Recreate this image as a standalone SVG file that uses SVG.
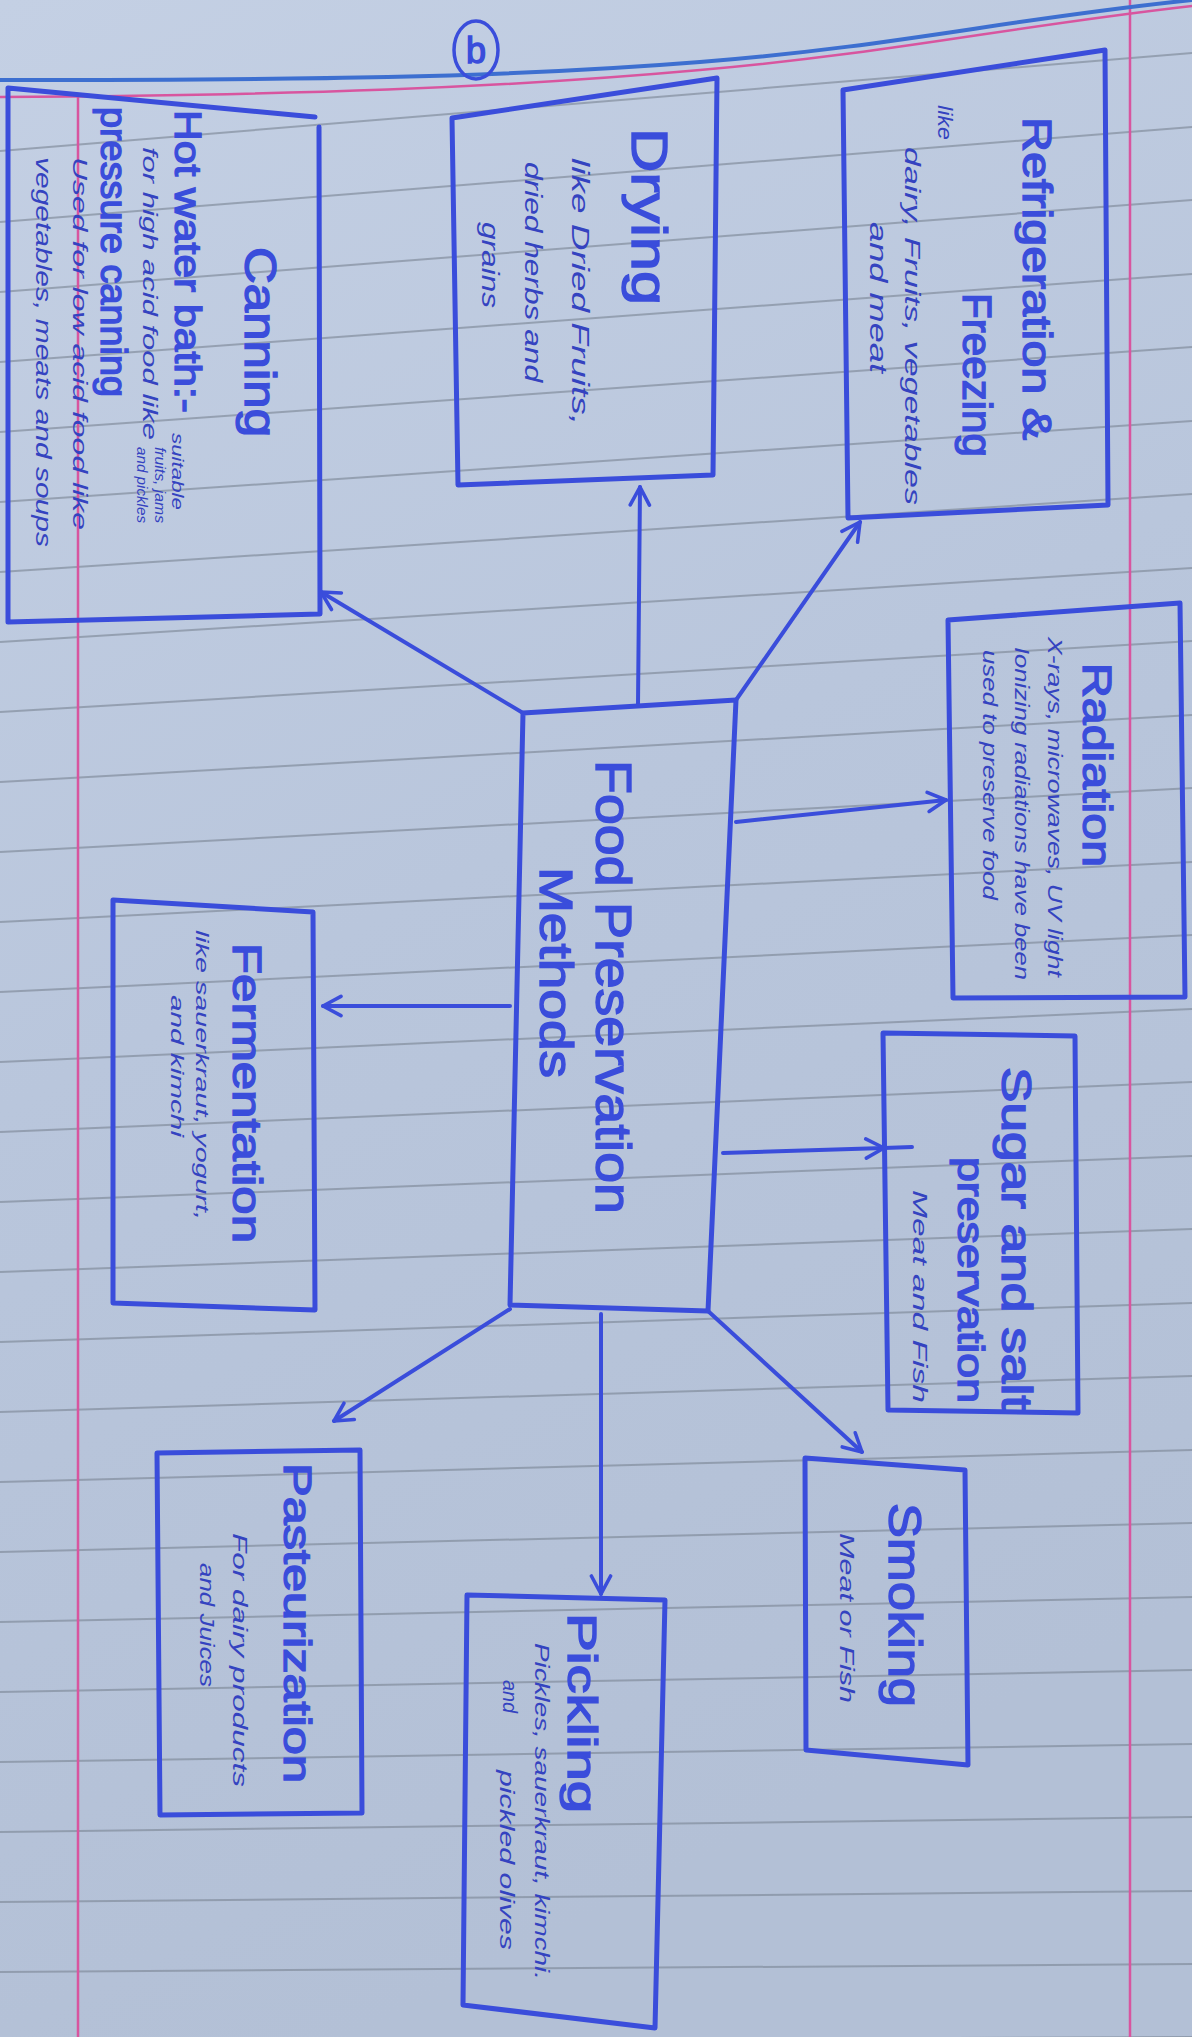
<svg xmlns="http://www.w3.org/2000/svg" width="1192" height="2037" viewBox="0 0 1192 2037">
<defs>
<linearGradient id="paper" x1="0" y1="0" x2="0.3" y2="1">
<stop offset="0" stop-color="#c4d0e4"/>
<stop offset="0.5" stop-color="#b9c6dc"/>
<stop offset="1" stop-color="#b3c0d6"/>
</linearGradient>
<marker id="arr" viewBox="0 0 20 20" refX="18" refY="10" markerWidth="24" markerHeight="24" markerUnits="userSpaceOnUse" orient="auto">
<path d="M3,2 L18,10 L3,18" fill="none" stroke="#3a4ddb" stroke-width="3" stroke-linecap="round" stroke-linejoin="round"/>
</marker>
</defs>
<style>
.rule{stroke:#7e8898;stroke-width:2;fill:none;opacity:0.65}
.pink{stroke:#d8559f;stroke-width:2.5;fill:none}
.box{fill:none;stroke:#3a4ddb;stroke-width:5;stroke-linejoin:round;stroke-linecap:round}
.con{fill:none;stroke:#3a4ddb;stroke-width:4;stroke-linecap:round}
.t{font-family:"Liberation Sans","DejaVu Sans",sans-serif;fill:#3a4ddb;stroke:#3a4ddb;stroke-width:1.4}
.n{font-family:"Liberation Sans","DejaVu Sans",sans-serif;font-style:italic;fill:#3443c0}
</style>
<rect x="0" y="0" width="1192" height="2037" fill="url(#paper)"/>
<g id="paper-lines">
<line class="rule" x1="0" y1="151" x2="1192" y2="53"/>
<line class="rule" x1="0" y1="222" x2="1192" y2="127"/>
<line class="rule" x1="0" y1="292" x2="1192" y2="200"/>
<line class="rule" x1="0" y1="362" x2="1192" y2="274"/>
<line class="rule" x1="0" y1="432" x2="1192" y2="347"/>
<line class="rule" x1="0" y1="502" x2="1192" y2="421"/>
<line class="rule" x1="0" y1="572" x2="1192" y2="494"/>
<line class="rule" x1="0" y1="642" x2="1192" y2="568"/>
<line class="rule" x1="0" y1="712" x2="1192" y2="641"/>
<line class="rule" x1="0" y1="782" x2="1192" y2="715"/>
<line class="rule" x1="0" y1="852" x2="1192" y2="788"/>
<line class="rule" x1="0" y1="922" x2="1192" y2="862"/>
<line class="rule" x1="0" y1="992" x2="1192" y2="935"/>
<line class="rule" x1="0" y1="1062" x2="1192" y2="1009"/>
<line class="rule" x1="0" y1="1132" x2="1192" y2="1082"/>
<line class="rule" x1="0" y1="1202" x2="1192" y2="1156"/>
<line class="rule" x1="0" y1="1272" x2="1192" y2="1229"/>
<line class="rule" x1="0" y1="1342" x2="1192" y2="1303"/>
<line class="rule" x1="0" y1="1412" x2="1192" y2="1376"/>
<line class="rule" x1="0" y1="1482" x2="1192" y2="1450"/>
<line class="rule" x1="0" y1="1552" x2="1192" y2="1523"/>
<line class="rule" x1="0" y1="1622" x2="1192" y2="1597"/>
<line class="rule" x1="0" y1="1692" x2="1192" y2="1670"/>
<line class="rule" x1="0" y1="1762" x2="1192" y2="1744"/>
<line class="rule" x1="0" y1="1832" x2="1192" y2="1817"/>
<line class="rule" x1="0" y1="1902" x2="1192" y2="1891"/>
<line class="rule" x1="0" y1="1972" x2="1192" y2="1964"/>
<line class="rule" x1="0" y1="2042" x2="1192" y2="2037"/>
<line class="pink" x1="78" y1="95" x2="78" y2="2037"/>
<line class="pink" x1="1130" y1="0" x2="1130" y2="2037"/>
<path d="M0,80 C300,80 500,78 700,62 S1000,20 1192,0" fill="none" stroke="#3d6fd0" stroke-width="4"/>
<path class="pink" d="M0,97 C300,95 500,88 700,70 S1000,28 1192,6"/>
</g>
<g id="label-b">
<ellipse cx="476" cy="50" rx="22" ry="29" fill="none" stroke="#3a4ddb" stroke-width="3.5"/>
<text class="t" x="476" y="63" font-size="36" text-anchor="middle">b</text>
</g>
<g id="connectors">
<line class="con" x1="523" y1="713" x2="321" y2="592" marker-end="url(#arr)"/>
<line class="con" x1="638" y1="705" x2="640" y2="487" marker-end="url(#arr)"/>
<line class="con" x1="736" y1="700" x2="860" y2="522" marker-end="url(#arr)"/>
<line class="con" x1="736" y1="822" x2="946" y2="800" marker-end="url(#arr)"/>
<line class="con" x1="723" y1="1153" x2="884" y2="1148" marker-end="url(#arr)"/>
<line class="con" x1="884" y1="1148" x2="912" y2="1147"/>
<line class="con" x1="510" y1="1006" x2="323" y2="1006" marker-end="url(#arr)"/>
<line class="con" x1="510" y1="1309" x2="334" y2="1421" marker-end="url(#arr)"/>
<line class="con" x1="601" y1="1314" x2="601" y2="1594" marker-end="url(#arr)"/>
<line class="con" x1="708" y1="1311" x2="862" y2="1452" marker-end="url(#arr)"/>
</g>
<g id="node-center">
<polygon class="box" points="523,713 736,700 708,1311 510,1305"/>
<text class="t" font-size="50" transform="translate(596,760) rotate(90)" textLength="454" lengthAdjust="spacingAndGlyphs">Food Preservation</text>
<text class="t" font-size="46" transform="translate(540,867) rotate(90)" textLength="211" lengthAdjust="spacingAndGlyphs">Methods</text>
</g>
<g id="node-refrigeration">
<polygon class="box" points="843,90 1105,50 1108,505 848,518"/>
<text class="t" font-size="40" transform="translate(1023,117) rotate(90)" textLength="323" lengthAdjust="spacingAndGlyphs">Refrigeration &amp;</text>
<text class="t" font-size="40" transform="translate(963,293) rotate(90)" textLength="164" lengthAdjust="spacingAndGlyphs">Freezing</text>
<text class="n" font-size="20" transform="translate(938,105) rotate(90)" textLength="35" lengthAdjust="spacingAndGlyphs">like</text>
<text class="n" font-size="22" transform="translate(905,147) rotate(90)" textLength="358" lengthAdjust="spacingAndGlyphs">dairy, Fruits, vegetables</text>
<text class="n" font-size="24" transform="translate(870,222) rotate(90)" textLength="151" lengthAdjust="spacingAndGlyphs">and meat</text>
</g>
<g id="node-drying">
<polygon class="box" points="452,118 717,78 713,475 458,485"/>
<text class="t" font-size="50" transform="translate(632,128) rotate(90)" textLength="177" lengthAdjust="spacingAndGlyphs">Drying</text>
<text class="n" font-size="24" transform="translate(572,158) rotate(90)" textLength="267" lengthAdjust="spacingAndGlyphs">like Dried Fruits,</text>
<text class="n" font-size="24" transform="translate(525,162) rotate(90)" textLength="220" lengthAdjust="spacingAndGlyphs">dried herbs and</text>
<text class="n" font-size="24" transform="translate(482,222) rotate(90)" textLength="86" lengthAdjust="spacingAndGlyphs">grains</text>
</g>
<g id="node-canning">
<path class="box" d="M8,622 L8,88 L315,117 M319,127 L320,614 L8,622"/>
<text class="t" font-size="44" transform="translate(245,247) rotate(90)" textLength="190" lengthAdjust="spacingAndGlyphs">Canning</text>
<text class="t" font-size="36" transform="translate(175,110) rotate(90)" textLength="303" lengthAdjust="spacingAndGlyphs">Hot water bath:-</text>
<text class="n" font-size="17" transform="translate(172,433) rotate(90)" textLength="77" lengthAdjust="spacingAndGlyphs">suitable</text>
<text class="n" font-size="20" transform="translate(143,147) rotate(90)" textLength="293" lengthAdjust="spacingAndGlyphs">for high acid food like</text>
<text class="n" font-size="14" transform="translate(155,447) rotate(90)" textLength="76" lengthAdjust="spacingAndGlyphs">fruits, jams</text>
<text class="n" font-size="14" transform="translate(137,447) rotate(90)" textLength="76" lengthAdjust="spacingAndGlyphs">and pickles</text>
<text class="t" font-size="36" transform="translate(101,107) rotate(90)" textLength="290" lengthAdjust="spacingAndGlyphs">pressure canning</text>
<text class="n" font-size="20" transform="translate(73,157) rotate(90)" textLength="373" lengthAdjust="spacingAndGlyphs">Used for low acid food like</text>
<text class="n" font-size="22" transform="translate(36,157) rotate(90)" textLength="390" lengthAdjust="spacingAndGlyphs">vegetables, meats and soups</text>
</g>
<g id="node-radiation">
<polygon class="box" points="948,620 1180,603 1185,997 953,998"/>
<text class="t" font-size="40" transform="translate(1083,663) rotate(90)" textLength="204" lengthAdjust="spacingAndGlyphs">Radiation</text>
<text class="n" font-size="20" transform="translate(1048,637) rotate(90)" textLength="340" lengthAdjust="spacingAndGlyphs">X-rays, microwaves, UV light</text>
<text class="n" font-size="20" transform="translate(1015,647) rotate(90)" textLength="333" lengthAdjust="spacingAndGlyphs">Ionizing radiations have been</text>
<text class="n" font-size="20" transform="translate(983,650) rotate(90)" textLength="250" lengthAdjust="spacingAndGlyphs">used to preserve food</text>
</g>
<g id="node-fermentation">
<polygon class="box" points="113,900 313,912 315,1310 113,1303"/>
<text class="t" font-size="40" transform="translate(233,943) rotate(90)" textLength="300" lengthAdjust="spacingAndGlyphs">Fermentation</text>
<text class="n" font-size="19" transform="translate(196,930) rotate(90)" textLength="290" lengthAdjust="spacingAndGlyphs">like sauerkraut, yogurt,</text>
<text class="n" font-size="19" transform="translate(171,995) rotate(90)" textLength="142" lengthAdjust="spacingAndGlyphs">and kimchi</text>
</g>
<g id="node-sugar-salt">
<polygon class="box" points="883,1033 1075,1036 1078,1413 888,1410"/>
<text class="t" font-size="42" transform="translate(1002,1067) rotate(90)" textLength="343" lengthAdjust="spacingAndGlyphs">Sugar and salt</text>
<text class="t" font-size="36" transform="translate(958,1157) rotate(90)" textLength="246" lengthAdjust="spacingAndGlyphs">preservation</text>
<text class="n" font-size="20" transform="translate(913,1190) rotate(90)" textLength="213" lengthAdjust="spacingAndGlyphs">Meat and Fish</text>
</g>
<g id="node-smoking">
<polygon class="box" points="805,1458 965,1470 968,1765 806,1750"/>
<text class="t" font-size="46" transform="translate(889,1503) rotate(90)" textLength="204" lengthAdjust="spacingAndGlyphs">Smoking</text>
<text class="n" font-size="20" transform="translate(840,1533) rotate(90)" textLength="170" lengthAdjust="spacingAndGlyphs">Meat or Fish</text>
</g>
<g id="node-pickling">
<polygon class="box" points="467,1595 665,1600 655,2028 463,2005"/>
<text class="t" font-size="40" transform="translate(568,1613) rotate(90)" textLength="200" lengthAdjust="spacingAndGlyphs">Pickling</text>
<text class="n" font-size="20" transform="translate(535,1643) rotate(90)" textLength="337" lengthAdjust="spacingAndGlyphs">Pickles, sauerkraut, kimchi.</text>
<text class="n" font-size="20" transform="translate(503,1680) rotate(90)" textLength="33" lengthAdjust="spacingAndGlyphs">and</text>
<text class="n" font-size="20" transform="translate(500,1770) rotate(90)" textLength="180" lengthAdjust="spacingAndGlyphs">pickled olives</text>
</g>
<g id="node-pasteurization">
<polygon class="box" points="157,1453 360,1450 362,1813 160,1815"/>
<text class="t" font-size="38" transform="translate(284,1463) rotate(90)" textLength="320" lengthAdjust="spacingAndGlyphs">Pasteurization</text>
<text class="n" font-size="20" transform="translate(233,1533) rotate(90)" textLength="254" lengthAdjust="spacingAndGlyphs">For dairy products</text>
<text class="n" font-size="20" transform="translate(200,1563) rotate(90)" textLength="124" lengthAdjust="spacingAndGlyphs">and Juices</text>
</g>
</svg>
